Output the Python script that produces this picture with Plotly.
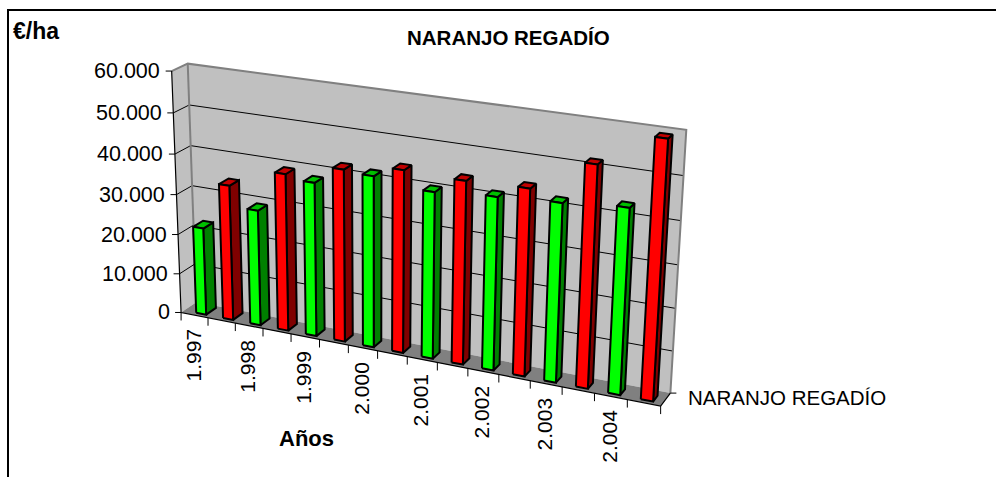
import numpy as np
import plotly.graph_objects as go

# ---- data ----
years = ["1.997", "1.998", "1.999", "2.000", "2.001", "2.002", "2.003", "2.004"]
bar_values = [22000, 33750, 28750, 38750, 37750, 42000, 41500, 44000,
              40000, 43700, 41100, 44150, 42000, 51700, 43200, 59400]
bar_colours = ["green", "red"] * 8
value_ticks = [0, 10000, 20000, 30000, 40000, 50000, 60000]
value_labels = ["0", "10.000", "20.000", "30.000", "40.000", "50.000", "60.000"]
title_text = "NARANJO REGADÍO"
series_name = "NARANJO REGADÍO"
unit_text = "€/ha"
axis_text = "Años"

# ---- oblique projection of the chart box on to the page ----
N = 16
VMAX = 60000.0
calib = [
    ((0, 0, 0), (183, 310)), ((0, 0, 1), (193, 303)), ((16, 0, 0), (660, 406)), ((16, 0, 1), (671, 392)),
    ((0, 1, 0), (170, 72)), ((0, 1, 1), (188, 64)), ((16, 1, 1), (687, 129)),
    ((8, 0, 0), (408, 360)), ((16, .5, 1), (677, 265)), ((0, .5, 1), (195, 186)), ((0, .5, 0), (176, 193)),
]
A = []
for (X, Y, Z), (px, py) in calib:
    p = [X / 16, Y, Z, 1]
    A.append(p + [0, 0, 0, 0] + [-px / 500 * c for c in p])
    A.append([0, 0, 0, 0] + p + [-py / 500 * c for c in p])
P = np.linalg.svd(np.array(A))[2][-1].reshape(3, 4)


def proj(slot, value, depth):
    h = P @ np.array([slot / 16, value / VMAX, depth, 1.0])
    return float(h[0] / h[2] * 500), float(h[1] / h[2] * 500)


fig = go.Figure()


def poly(points, fill=None, line=None, width=1):
    xs = [p[0] for p in points]
    ys = [p[1] for p in points]
    if fill:
        xs.append(xs[0]); ys.append(ys[0])
    fig.add_trace(go.Scatter(
        x=xs, y=ys, mode="lines", fill="toself" if fill else None,
        fillcolor=fill, line=dict(color=line or "rgba(0,0,0,0)", width=width, simplify=False),
        hoverinfo="skip", showlegend=False))


WALL, EDGE, FLOOR = "#c0c0c0", "#808080", "#808080"
# walls and floor
poly([proj(0, 0, 0), proj(0, 0, 1), proj(0, VMAX, 1), proj(0, VMAX, 0)], WALL)
poly([proj(0, 0, 1), proj(N, 0, 1), proj(N, VMAX, 1), proj(0, VMAX, 1)], WALL)
poly([proj(0, 0, 0), proj(N, 0, 0), proj(N, 0, 1), proj(0, 0, 1)], FLOOR)
for v in value_ticks[1:-1]:
    poly([proj(0, v, 0), proj(0, v, 1), proj(N, v, 1)], line="#000000", width=1)
poly([proj(0, VMAX, 0), proj(0, VMAX, 1), proj(N, VMAX, 1), proj(N, 0, 1)], line=EDGE, width=2)
poly([proj(0, VMAX, 1), proj(0, 0, 1)], line=EDGE, width=2)
# axes
poly([proj(0, VMAX, 0), proj(0, 0, 0), proj(N, 0, 0), proj(N, 0, 1)], line="#000000", width=1.2)
for v, lab in zip(value_ticks, value_labels):
    x, y = proj(0, v, 0)
    poly([(x - 6, y), (x, y)], line="#000000", width=1)
    fig.add_annotation(x=x - 9.5, y=y, text=lab, xanchor="right", yanchor="middle", showarrow=False,
                       font=dict(size=21.5, color="#000000"))
for s in range(N + 1):
    x, y = proj(s, 0, 0)
    poly([(x, y), (x, y + 8)], line="#000000", width=1)
for i, lab in enumerate(years):
    x, y = proj(2 * i + 0.45, 0, 0)
    fig.add_annotation(x=x, y=y + 12, text=lab, textangle=-90, xanchor="center", yanchor="top",
                       showarrow=False, font=dict(size=21, color="#000000"))
x, y = proj(N, 0, 1)
poly([(x, y), (x + 6, y)], line="#000000", width=1)

# bars
SHADES = {"green": ("#00ff00", "#008000", "#00c000"), "red": ("#ff0000", "#800000", "#c00000")}
WIDTH, D0 = 0.37, 0.2
for i, (val, c) in enumerate(zip(bar_values, bar_colours)):
    front, side, top = SHADES[c]
    a = i + 0.45 - 0.007 * i
    b = a + WIDTH
    D1 = 0.85 - 0.0133 * i
    poly([proj(b, 0, D0), proj(b, 0, D1), proj(b, val, D1), proj(b, val, D0)], side, "#000000", 2)
    poly([proj(a, val, D0), proj(b, val, D0), proj(b, val, D1), proj(a, val, D1)], top, "#000000", 2)
    poly([proj(a, 0, D0), proj(b, 0, D0), proj(b, val, D0), proj(a, val, D0)], front, "#000000", 2)

# frame: only top and left edges are on the page
poly([(8, 477), (8, 10), (996, 10)], line="#000000", width=2)

fig.add_annotation(x=508, y=37, text="<b>%s</b>" % title_text, xanchor="center", yanchor="middle",
                   showarrow=False, font=dict(size=20.5, color="#000000"))
fig.add_annotation(x=11, y=31, text="<b>%s</b>" % unit_text, xanchor="left", yanchor="middle",
                   showarrow=False, font=dict(size=23, color="#000000"))
fig.add_annotation(x=306, y=438, text="<b>%s</b>" % axis_text, xanchor="center", yanchor="middle",
                   showarrow=False, font=dict(size=22, color="#000000"))
fig.add_annotation(x=686, y=397, text=series_name, xanchor="left", yanchor="middle",
                   showarrow=False, font=dict(size=20.5, color="#000000"))

fig.update_layout(
    width=996, height=477, margin=dict(l=0, r=0, t=0, b=0), showlegend=False,
    paper_bgcolor="#ffffff", plot_bgcolor="#ffffff",
    font=dict(family="Liberation Sans, Arial, sans-serif"),
    xaxis=dict(range=[0, 996], visible=False, fixedrange=True),
    yaxis=dict(range=[477, 0], visible=False, fixedrange=True),
)
fig.write_html("out.html", config=dict(displayModeBar=False),
               post_script="document.body.style.margin='0';document.documentElement.style.overflow='hidden';")
